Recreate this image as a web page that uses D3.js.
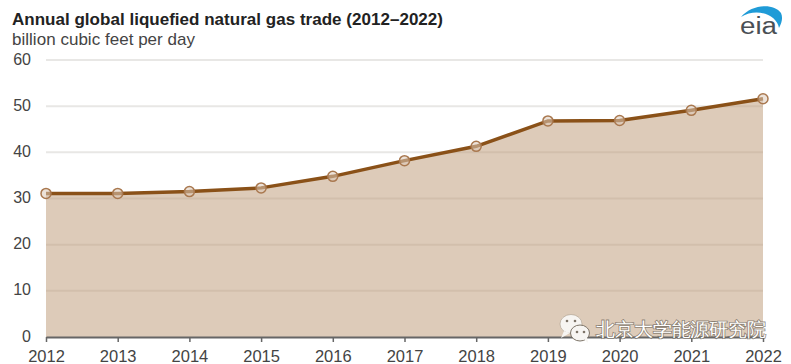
<!DOCTYPE html>
<html>
<head>
<meta charset="utf-8">
<style>
  html, body { margin: 0; padding: 0; background: #fff; }
  svg { display: block; }
  text { font-family: "Liberation Sans", Arial, sans-serif; }
</style>
<script src="https://d3js.org/d3.v7.min.js"></script>
</head>
<body>
<div id="chart"></div>
<script>
var years = [2012, 2013, 2014, 2015, 2016, 2017, 2018, 2019, 2020, 2021, 2022];
var trade = [31.1, 31.1, 31.5, 32.3, 34.8, 38.2, 41.3, 46.8, 46.9, 49.1, 51.6];
var yTicks = [0, 10, 20, 30, 40, 50, 60];
var titleText = "Annual global liquefied natural gas trade (2012–2022)";
var unitText = "billion cubic feet per day";
var watermarkText = "北京大学能源研究院";

var w = 791, h = 364;
var svg = d3.select("#chart").append("svg").attr("width", w).attr("height", h);

var xScale = d3.scaleLinear().domain([2012, 2022]).range([46, 763]);
var yScale = d3.scaleLinear().domain([0, 60]).range([337, 60]);

var points = years.map((y, i) => ({ year: y, value: trade[i] }));

// gridlines sit under the area and show through it
svg.append("g").selectAll("line")
    .data(yTicks.filter(d => d > 0))
    .enter().append("line")
    .attr("x1", 46).attr("x2", 763)
    .attr("y1", d => yScale(d)).attr("y2", d => yScale(d))
    .attr("stroke", "#e8e7e5")
    .attr("stroke-width", 2);

var area = d3.area().x(d => xScale(d.year)).y0(yScale(0)).y1(d => yScale(d.value));
svg.append("path").datum(points)
    .attr("d", area)
    .attr("fill", "#bb9873")
    .attr("fill-opacity", 0.5);

var line = d3.line().x(d => xScale(d.year)).y(d => yScale(d.value));
svg.append("path").datum(points)
    .attr("d", line)
    .attr("fill", "none")
    .attr("stroke", "#8a5118")
    .attr("stroke-width", 3.5);

svg.append("g").selectAll("circle")
    .data(points)
    .enter().append("circle")
    .attr("cx", d => xScale(d.year))
    .attr("cy", d => yScale(d.value))
    .attr("r", 5)
    .attr("fill", "#ddcbb9")
    .attr("fill-opacity", 0.55)
    .attr("stroke", "#a9784f")
    .attr("stroke-width", 1.5);

// y labels
svg.append("g").selectAll("text")
    .data(yTicks)
    .enter().append("text")
    .attr("x", 31)
    .attr("y", d => yScale(d) - 1)
    .attr("dy", "0.35em")
    .attr("text-anchor", "end")
    .attr("font-size", 16)
    .attr("fill", "#444")
    .text(d => d);

// x axis
var xAxis = d3.axisBottom(xScale)
    .tickValues(years)
    .tickFormat(d3.format("d"))
    .tickSize(5)
    .tickSizeOuter(0)
    .tickPadding(8);
var xg = svg.append("g").attr("transform", "translate(0,337)").call(xAxis);
xg.select(".domain").attr("stroke", "#666").attr("stroke-width", 2);
xg.selectAll(".tick line").attr("stroke", "#666").attr("stroke-width", 1.5);
xg.selectAll(".tick text")
    .attr("font-size", 16.5)
    .attr("font-family", '"Liberation Sans", Arial, sans-serif')
    .attr("fill", "#444");

// title block
svg.append("text").attr("x", 12).attr("y", 25)
    .attr("font-size", 17).attr("font-weight", "bold").attr("fill", "#222")
    .attr("textLength", 431)
    .text(titleText);
svg.append("text").attr("x", 12).attr("y", 45)
    .attr("font-size", 17).attr("fill", "#444")
    .attr("textLength", 183)
    .text(unitText);

// eia logo
var logo = svg.append("g");
logo.append("path")
    .attr("d", "M741 17 C752 4 774 3 781 13 C783 18 782 22 779 28 C777 15 757 7 741 17 Z")
    .attr("fill", "#1f9bd7");
logo.append("text").attr("x", 740).attr("y", 34)
    .attr("font-size", 23).attr("fill", "#4a4f55")
    .attr("font-family", '"DejaVu Sans", sans-serif')
    .attr("textLength", 37).attr("lengthAdjust", "spacingAndGlyphs")
    .text("eia");

// wechat watermark
var wm = svg.append("g");
wm.append("ellipse").attr("cx", 571).attr("cy", 324).attr("rx", 11).attr("ry", 9.5).attr("fill", "#f7f5f2").attr("stroke", "#a89a8a").attr("stroke-width", 0.6);
wm.append("path").attr("d", "M564 331 L561 338 L570 333 Z").attr("fill", "#f7f5f2");
wm.append("ellipse").attr("cx", 580).attr("cy", 333).attr("rx", 9.5).attr("ry", 8).attr("fill", "#f7f5f2").attr("stroke", "#7d7468").attr("stroke-width", 1);
wm.append("path").attr("d", "M584 339 L588 343 L587 337 Z").attr("fill", "#f7f5f2");
[[567, 321], [575, 321], [577, 332], [584, 332]].forEach(function (c) {
    wm.append("circle").attr("cx", c[0]).attr("cy", c[1]).attr("r", 1.3).attr("fill", "#7d7468");
});
// dark halo first, white fill on top
svg.append("text").attr("x", 596).attr("y", 336)
    .attr("font-size", 19)
    .attr("font-family", '"Noto Sans CJK SC", sans-serif')
    .attr("fill", "#fff")
    .attr("stroke", "#6f675c").attr("stroke-width", 1.6)
    .attr("stroke-opacity", 0.75)
    .attr("paint-order", "stroke")
    .attr("textLength", 170)
    .text(watermarkText);
</script>
</body>
</html>
